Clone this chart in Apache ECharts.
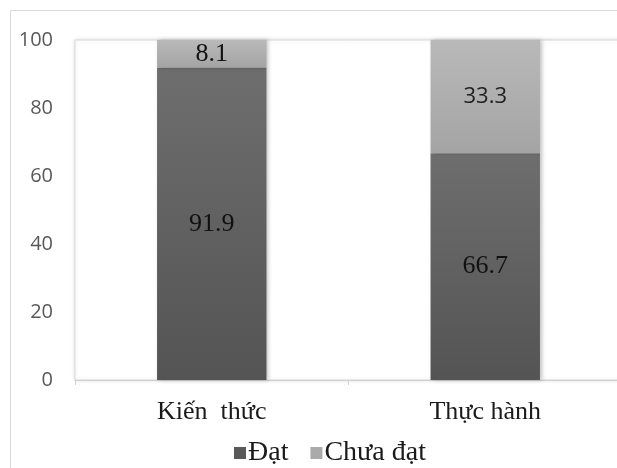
<!DOCTYPE html>
<html>
<head>
<meta charset="utf-8">
<script src="https://cdn.jsdelivr.net/npm/echarts@6/dist/echarts.min.js"></script>
<style>
  html, body { margin: 0; padding: 0; background: #fff; }
  #chart { width: 617px; height: 468px; }
</style>
</head>
<body>
<div id="chart"></div>
<script>
// Kết quả đánh giá (%)
const categories = ['Kiến  thức', 'Thực hành'];
const datValues = [91.9, 66.7];
const chuaDatValues = [8.1, 33.3];
const yTicks = { min: 0, max: 100, step: 20 };

const serif = '"Liberation Serif", "Times New Roman", serif';
const sans = '"Open Sans", "Liberation Sans", sans-serif';

function vGrad(top, bottom) {
  return new echarts.graphic.LinearGradient(0, 0, 0, 1, [
    { offset: 0, color: top },
    { offset: 1, color: bottom }
  ]);
}

const barShadow = {
  shadowColor: 'rgba(0,0,0,0.25)',
  shadowBlur: 4,
  shadowOffsetX: 2,
  shadowOffsetY: 0
};

const chart = echarts.init(document.getElementById('chart'), null, { renderer: 'canvas' });

chart.setOption({
  backgroundColor: '#ffffff',
  animation: false,
  graphic: [{
    type: 'rect',
    shape: { x: 10.5, y: 10.5, width: 700, height: 700 },
    style: { fill: 'none', stroke: '#d9d9d9', lineWidth: 1 },
    silent: true,
    z: -1
  }],
  grid: {
    left: 75, top: 40, width: 547, height: 340,
    outerBoundsMode: 'none',
    show: true,
    backgroundColor: '#ffffff',
    borderColor: '#d9d9d9',
    borderWidth: 1,
    shadowColor: 'rgba(0,0,0,0.12)',
    shadowBlur: 4
  },
  legend: {
    left: 229,
    top: 434,
    itemWidth: 12,
    itemHeight: 12,
    itemGap: 22,
    icon: 'rect',
    textStyle: { fontFamily: serif, fontSize: 28, color: '#1a1a1a', padding: [0, 0, 0, -3] },
    data: [
      { name: 'Đạt', itemStyle: { color: '#595959' } },
      { name: 'Chưa đạt', itemStyle: { color: '#aaaaaa' } }
    ]
  },
  xAxis: {
    type: 'category',
    data: categories,
    boundaryGap: true,
    axisLine: { show: true, lineStyle: { color: '#d0d0d0', width: 1 } },
    axisTick: { show: true, length: 5, inside: false, lineStyle: { color: '#d0d0d0' } },
    axisLabel: { fontFamily: serif, fontSize: 26, color: '#1a1a1a', margin: 19 },
    splitLine: { show: false }
  },
  yAxis: {
    type: 'value',
    min: yTicks.min,
    max: yTicks.max,
    interval: yTicks.step,
    axisLine: { show: false },
    axisTick: { show: false },
    splitLine: { show: false },
    axisLabel: { fontFamily: sans, fontSize: 20, color: '#595959', margin: 22 }
  },
  series: [
    {
      name: 'Đạt',
      type: 'bar',
      stack: 'total',
      barWidth: '40%',
      data: datValues,
      itemStyle: Object.assign({ color: vGrad('#6e6e6e', '#545454') }, barShadow),
      label: {
        show: true,
        position: 'inside',
        fontFamily: serif,
        fontSize: 26,
        color: '#111111'
      }
    },
    {
      name: 'Chưa đạt',
      type: 'bar',
      stack: 'total',
      barWidth: '40%',
      data: chuaDatValues.map((v, i) => i === 1
        ? { value: v, label: { fontFamily: sans, fontSize: 22, color: '#222222' } }
        : v),
      itemStyle: Object.assign({ color: vGrad('#b9b9b9', '#a4a4a4') }, barShadow),
      label: {
        show: true,
        position: 'inside',
        fontFamily: serif,
        fontSize: 26,
        color: '#111111'
      }
    }
  ]
});
</script>
</body>
</html>
